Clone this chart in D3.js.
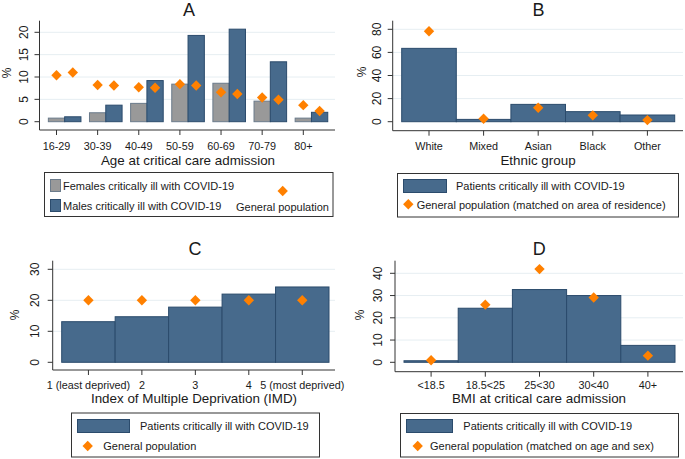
<!DOCTYPE html>
<html><head><meta charset="utf-8">
<script src="https://cdn.jsdelivr.net/npm/d3@7"></script>
<style>
html,body{margin:0;padding:0;background:#fff;}
svg{display:block;font-family:"Liberation Sans",Arial,sans-serif;}
</style></head>
<body>
<svg id="chart" width="685" height="459"></svg>
<script>
// ---------- DATA ----------
const ageGroups = ["16-29","30-39","40-49","50-59","60-69","70-79","80+"];
const femalesICU = [0.8, 2.0, 4.1, 8.4, 8.6, 4.6, 0.8];
const malesICU   = [1.1, 3.7, 9.2, 19.3, 20.7, 13.4, 2.1];
const femalesPop = [10.4, 8.2, 7.7, 8.4, 6.6, 5.4, 3.7];
const malesPop   = [11.0, 8.1, 7.6, 8.1, 6.2, 4.9, 2.4];
const ageTicks = [0, 5, 10, 15, 20];

const ethnicGroups = ["White","Mixed","Asian","Black","Other"];
const ethnicICU = [63.5, 2.0, 15.0, 8.7, 5.8];
const ethnicPop = [78.3, 2.6, 12.1, 5.5, 1.4];
const ethnicTicks = [0, 20, 40, 60, 80];

const imdGroups = ["1 (least deprived)","2","3","4","5 (most deprived)"];
const imdICU = [13.1, 14.7, 17.8, 22.0, 24.3];
const imdPop = [20.0, 20.0, 20.0, 20.0, 20.0];
const imdTicks = [0, 10, 20, 30];

const bmiGroups = ["<18.5","18.5<25","25<30","30<40","40+"];
const bmiICU = [0.7, 24.3, 32.7, 30.0, 7.6];
const bmiPop = [0.9, 25.9, 41.9, 29.1, 3.0];
const bmiTicks = [0, 10, 20, 30, 40];

// ---------- STYLE ----------
const NAVY = "#476a8c", NAVY_STROKE = "#2b4b6c";
const GREY = "#999999", GREY_STROKE = "#6b7b8b";
const ORANGE = "#ff8000";
const GRID = "#e6eef2";
const AXIS = "#333";
const TXT = "#1a1a1a";

const svg = d3.select("#chart");
function drawDiamond(g, x, y){
  g.append("path").attr("d", d3.symbol().type(d3.symbolSquare).size(54)())
   .attr("transform", `translate(${x},${y}) rotate(45)`).attr("fill", ORANGE);
}

function frame(g, p, y, ticks){
  g.selectAll(".grid").data(ticks.filter(t=>t!==0)).enter().append("line")
    .attr("x1", p.left).attr("x2", p.right).attr("y1", d=>y(d)).attr("y2", d=>y(d))
    .attr("stroke", GRID).attr("stroke-width", 1);
}
function axes(g, p, y, ticks, xPos, labels, cfg){
  g.append("line").attr("x1", p.left).attr("x2", p.left).attr("y1", p.top).attr("y2", p.bottom)
    .attr("stroke", AXIS).attr("stroke-width", 1);
  g.selectAll(".yt").data(ticks).enter().append("line")
    .attr("x1", p.left-5).attr("x2", p.left).attr("y1", d=>y(d)).attr("y2", d=>y(d))
    .attr("stroke", AXIS);
  g.selectAll(".yl").data(ticks).enter().append("text")
    .attr("transform", d=>`translate(${p.left-cfg.ylOff},${y(d)}) rotate(-90)`)
    .attr("text-anchor","middle").attr("dominant-baseline","central")
    .attr("font-size", 12).attr("fill", TXT).text(d=>d);
  g.append("line").attr("x1", p.left).attr("x2", p.right).attr("y1", p.bottom).attr("y2", p.bottom)
    .attr("stroke", AXIS).attr("stroke-width", 1);
  g.selectAll(".xt").data(labels).enter().append("line")
    .attr("x1", d=>xPos(d)).attr("x2", d=>xPos(d)).attr("y1", p.bottom).attr("y2", p.bottom+5)
    .attr("stroke", AXIS);
  g.selectAll(".xl").data(labels).enter().append("text")
    .attr("x", d=>xPos(d)).attr("y", p.bottom+cfg.xlOff)
    .attr("text-anchor","middle").attr("font-size", 10.8).attr("fill", TXT).text(d=>d);
  g.append("text").attr("transform", `translate(${cfg.pct[0]},${cfg.pct[1]}) rotate(-90)`)
    .attr("text-anchor","middle").attr("dominant-baseline","central")
    .attr("font-size", 12).attr("fill", TXT).text("%");
  g.append("text").attr("x", cfg.title[0]).attr("y", cfg.title[1]).attr("text-anchor","middle")
    .attr("font-size", 18).attr("fill", TXT).text(cfg.titleText);
  g.append("text").attr("x", cfg.xtitle[0]).attr("y", cfg.xtitle[1]).attr("text-anchor","middle")
    .attr("font-size", 13.4).attr("fill", TXT).text(cfg.xtitleText);
}
function legendBox(g, b){
  g.append("rect").attr("x", b[0]+0.5).attr("y", b[1]+0.5).attr("width", b[2]-b[0]).attr("height", b[3]-b[1])
   .attr("fill","#fff").attr("stroke","#333").attr("stroke-width",1);
}
function ltext(g, x, y, t){
  g.append("text").attr("x", x).attr("y", y).attr("dominant-baseline","central")
   .attr("font-size", 11).attr("fill", TXT).text(t);
}

// ---------- PANEL A ----------
(function(){
  const g = svg.append("g");
  const p = {left:39.5, right:335, top:20.7, bottom:130};
  const y = d3.scaleLinear().domain([0,20]).range([121.7, 32.3]);
  const x = d3.scalePoint().domain(ageGroups).range([56.5, 303.3]);
  const w = 16.3;
  frame(g, p, y, ageTicks);
  const rows = ageGroups.map((a,i)=>({a, f:femalesICU[i], m:malesICU[i], fp:femalesPop[i], mp:malesPop[i]}));
  g.selectAll(".fb").data(rows).enter().append("rect")
    .attr("x", d=>x(d.a)-w/2).attr("width", w).attr("y", d=>y(d.f)).attr("height", d=>y(0)-y(d.f))
    .attr("fill", GREY).attr("stroke", GREY_STROKE).attr("stroke-width", 1);
  g.selectAll(".mb").data(rows).enter().append("rect")
    .attr("x", d=>x(d.a)+w/2).attr("width", w).attr("y", d=>y(d.m)).attr("height", d=>y(0)-y(d.m))
    .attr("fill", NAVY).attr("stroke", NAVY_STROKE).attr("stroke-width", 1);
  rows.forEach(d=>{ drawDiamond(g, x(d.a), y(d.fp)); drawDiamond(g, x(d.a)+w, y(d.mp)); });
  axes(g, p, y, ageTicks, d=>x(d), ageGroups,
    {ylOff:16, xlOff:19.5, pct:[7,73], title:[189,15.5], titleText:"A", xtitle:[188,164.5], xtitleText:"Age at critical care admission"});
  legendBox(g, [44, 172, 332.5, 216]);
  g.append("rect").attr("x",50.5).attr("y",179.5).attr("width",10).attr("height",12).attr("fill",GREY).attr("stroke",GREY_STROKE);
  g.append("rect").attr("x",50.5).attr("y",199.5).attr("width",10).attr("height",12).attr("fill",NAVY).attr("stroke",NAVY_STROKE);
  ltext(g, 63, 185.5, "Females critically ill with COVID-19");
  ltext(g, 63, 205.5, "Males critically ill with COVID-19");
  drawDiamond(g, 282.7, 191);
  ltext(g, 236, 207, "General population");
})();

// ---------- PANEL B ----------
(function(){
  const g = svg.append("g");
  const p = {left:392.7, right:683, top:20.7, bottom:130.7};
  const y = d3.scaleLinear().domain([0,80]).range([121.7, 29.3]);
  const x = d3.scaleBand().domain(ethnicGroups).range([401.7, 674.7]).padding(0);
  frame(g, p, y, ethnicTicks);
  const rows = ethnicGroups.map((a,i)=>({a, v:ethnicICU[i], pop:ethnicPop[i]}));
  g.selectAll(".b").data(rows).enter().append("rect")
    .attr("x", d=>x(d.a)).attr("width", x.bandwidth()).attr("y", d=>y(d.v)).attr("height", d=>y(0)-y(d.v))
    .attr("fill", NAVY).attr("stroke", NAVY_STROKE).attr("stroke-width", 1);
  rows.forEach(d=>drawDiamond(g, x(d.a)+x.bandwidth()/2, y(d.pop)));
  axes(g, p, y, ethnicTicks, d=>x(d)+x.bandwidth()/2, ethnicGroups,
    {ylOff:16, xlOff:19.5, pct:[361.7,72], title:[538.5,15.5], titleText:"B", xtitle:[538,164.5], xtitleText:"Ethnic group"});
  legendBox(g, [397, 173, 678, 216.5]);
  g.append("rect").attr("x",403.5).attr("y",179.5).attr("width",43).attr("height",13).attr("fill",NAVY).attr("stroke",NAVY_STROKE);
  ltext(g, 456, 185.7, "Patients critically ill with COVID-19");
  drawDiamond(g, 408.3, 204.3);
  ltext(g, 416.7, 204.5, "General population (matched on area of residence)");
})();

// ---------- PANEL C ----------
(function(){
  const g = svg.append("g");
  const p = {left:52.7, right:335, top:260.7, bottom:370};
  const y = d3.scaleLinear().domain([0,30]).range([362.3, 269.3]);
  const x = d3.scaleBand().domain(imdGroups).range([61.7, 329]).padding(0);
  frame(g, p, y, imdTicks);
  const rows = imdGroups.map((a,i)=>({a, v:imdICU[i], pop:imdPop[i]}));
  g.selectAll(".b").data(rows).enter().append("rect")
    .attr("x", d=>x(d.a)).attr("width", x.bandwidth()).attr("y", d=>y(d.v)).attr("height", d=>y(0)-y(d.v))
    .attr("fill", NAVY).attr("stroke", NAVY_STROKE).attr("stroke-width", 1);
  rows.forEach(d=>drawDiamond(g, x(d.a)+x.bandwidth()/2, y(d.pop)));
  axes(g, p, y, imdTicks, d=>x(d)+x.bandwidth()/2, imdGroups,
    {ylOff:17.5, xlOff:19, pct:[15,315], title:[195,255], titleText:"C", xtitle:[194,403], xtitleText:"Index of Multiple Deprivation (IMD)"});
  legendBox(g, [71, 412.5, 319, 456.5]);
  g.append("rect").attr("x",77.5).attr("y",419.5).attr("width",52).attr("height",13).attr("fill",NAVY).attr("stroke",NAVY_STROKE);
  ltext(g, 140, 425.7, "Patients critically ill with COVID-19");
  drawDiamond(g, 87.7, 446);
  ltext(g, 103.3, 446.2, "General population");
})();

// ---------- PANEL D ----------
(function(){
  const g = svg.append("g");
  const p = {left:395, right:683, top:260.7, bottom:371.7};
  const y = d3.scaleLinear().domain([0,40]).range([362.3, 273.3]);
  const x = d3.scaleBand().domain(bmiGroups).range([404, 675]).padding(0);
  frame(g, p, y, bmiTicks);
  const rows = bmiGroups.map((a,i)=>({a, v:bmiICU[i], pop:bmiPop[i]}));
  g.selectAll(".b").data(rows).enter().append("rect")
    .attr("x", d=>x(d.a)).attr("width", x.bandwidth()).attr("y", d=>y(d.v)).attr("height", d=>y(0)-y(d.v))
    .attr("fill", NAVY).attr("stroke", NAVY_STROKE).attr("stroke-width", 1);
  rows.forEach(d=>drawDiamond(g, x(d.a)+x.bandwidth()/2, y(d.pop)));
  axes(g, p, y, bmiTicks, d=>x(d)+x.bandwidth()/2, bmiGroups,
    {ylOff:16.7, xlOff:17.5, pct:[360,315], title:[539.3,255], titleText:"D", xtitle:[539,403], xtitleText:"BMI at critical care admission"});
  legendBox(g, [400, 413, 678, 456.5]);
  g.append("rect").attr("x",406.5).attr("y",419.5).attr("width",46).attr("height",13).attr("fill",NAVY).attr("stroke",NAVY_STROKE);
  ltext(g, 463.3, 425.7, "Patients critically ill with COVID-19");
  drawDiamond(g, 417.7, 446);
  ltext(g, 430, 446.2, "General population (matched on age and sex)");
})();
</script>
</body></html>
